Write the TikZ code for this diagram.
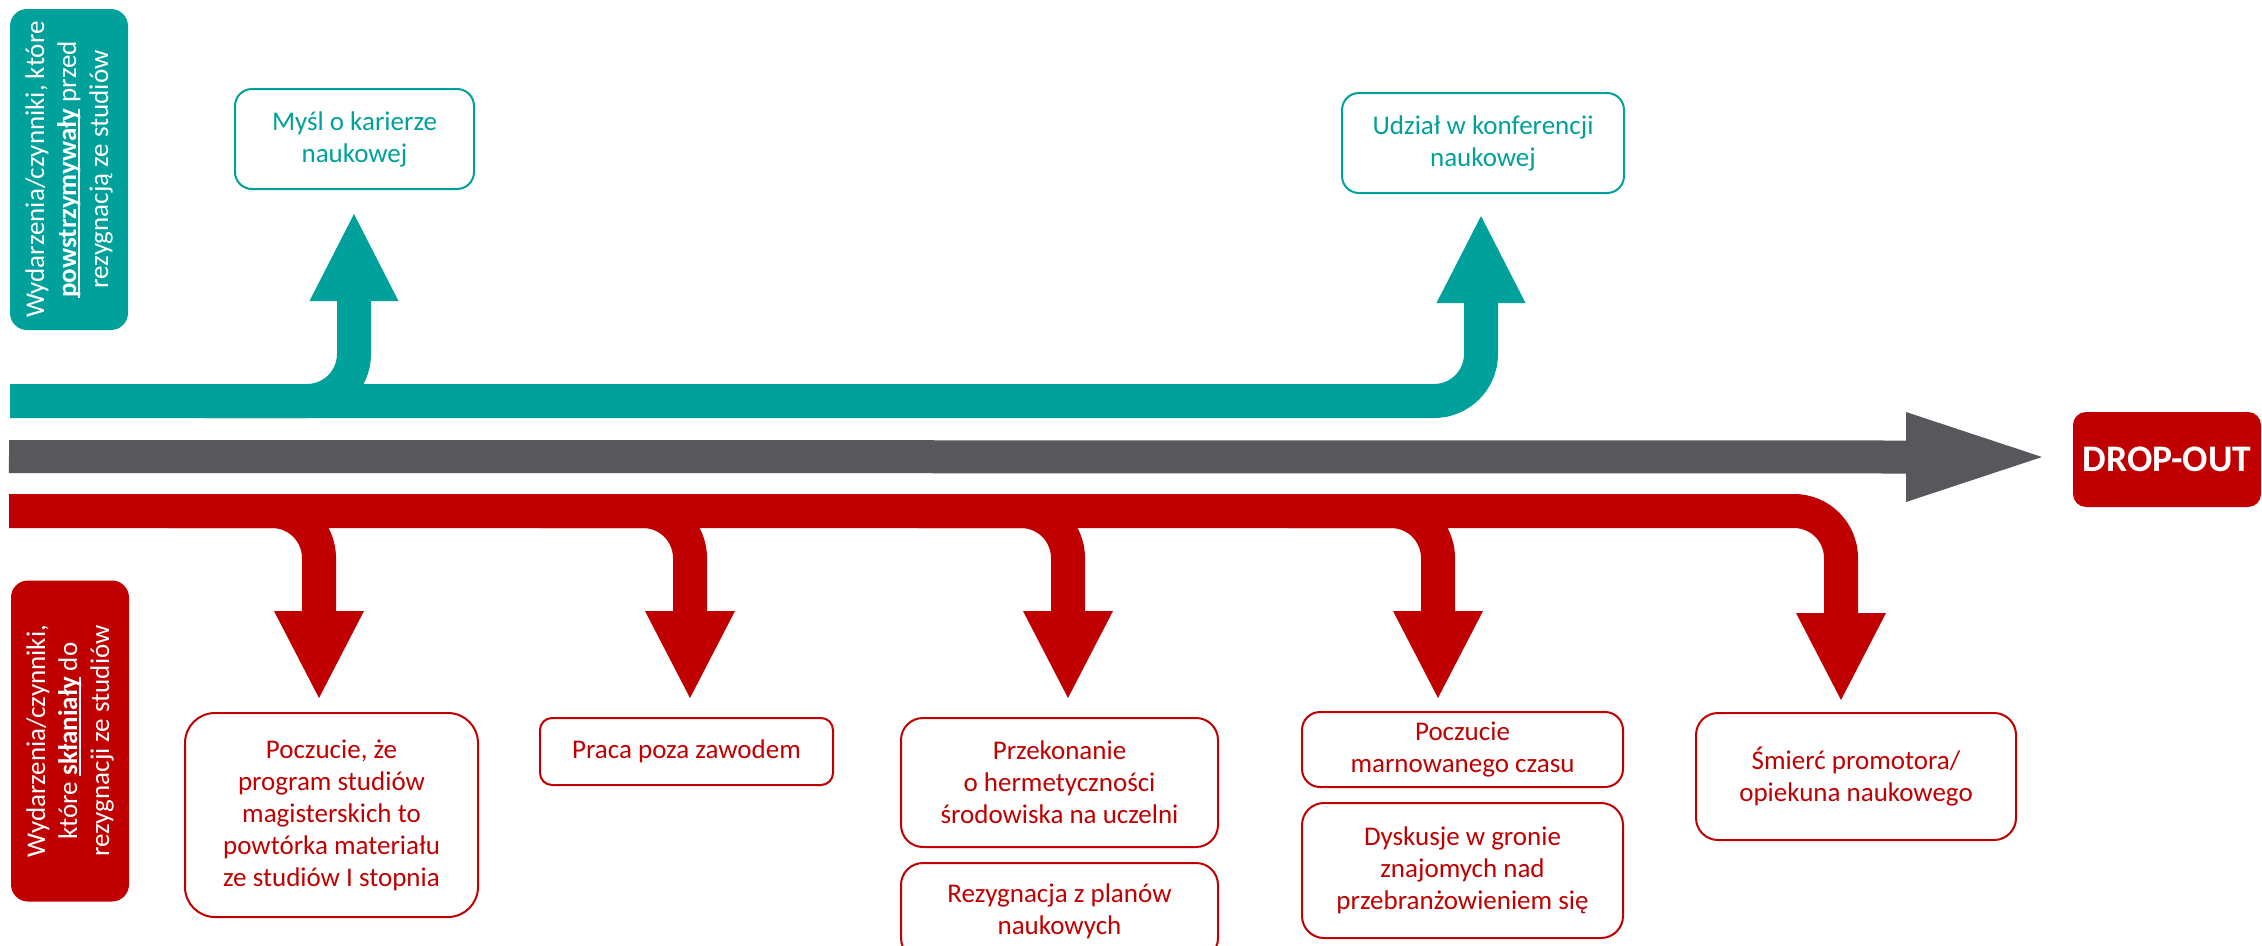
\documentclass[tikz,border=0pt]{standalone}
\usepackage{fontspec}
\setmainfont{Carlito}
\usetikzlibrary{calc}
\definecolor{tealc}{HTML}{00A19A}
\definecolor{redc}{HTML}{C00000}
\definecolor{grayc}{HTML}{58575C}
% bold word with a thick underline
\newsavebox\ulbox
\newcommand\ulword[1]{\sbox\ulbox{\bfseries #1}\rlap{\rule[-3.5pt]{\wd\ulbox}{2pt}}\usebox\ulbox}

\begin{document}
\begin{tikzpicture}[x=1pt,y=-1pt,
  every node/.style={font=\fontsize{27}{32}\selectfont, align=center, inner sep=0pt},
  tealbox/.style={draw=tealc, line width=2pt, rounded corners=17pt, text=tealc, fill=white},
  redbox/.style={draw=redc, line width=2pt, rounded corners=#1, text=redc, fill=white},
  redbox/.default=22pt,
  sidelabel/.style={rounded corners=17pt, text=white, rotate=90, minimum width=321pt, minimum height=118pt},
  tealstem/.style={draw=tealc, line width=34pt, rounded corners=47pt},
  redstem/.style={draw=redc, line width=34pt, rounded corners=47pt},
  graystem/.style={draw=grayc, line width=33pt}]
\useasboundingbox (0,0) rectangle (2262,945);

% side labels
\node[sidelabel, fill=tealc] (lblT) at (69,169.5)
  {Wydarzenia/czynniki, które\\ \ulword{powstrzymywały} przed\\ rezygnacją ze studiów};
\node[sidelabel, fill=redc] (lblR) at (70,741)
  {Wydarzenia/czynniki,\\ które \ulword{skłaniały} do\\ rezygnacji ze studiów};

% upper (teal) boxes
\node[tealbox, minimum width=239pt, minimum height=100pt] (tk) at (354.5,139) {Myśl o karierze\\ naukowej};
\node[tealbox, minimum width=282pt, minimum height=100pt] (tu) at (1483,143) {Udział w konferencji\\ naukowej};

% lower (red) boxes
\node[redbox=30pt, minimum width=293pt, minimum height=204pt] (r1box) at (331.5,815)
  {Poczucie, że\\ program studiów\\ magisterskich to\\ powtórka materiału\\ ze studiów I stopnia};
\node[redbox=12pt, minimum width=293pt, minimum height=67pt] (r2box) at (686.5,751.5) {Praca poza zawodem};
\node[redbox, minimum width=317pt, minimum height=129pt] (r3box) at (1059.5,782.5)
  {Przekonanie\\ o hermetyczności\\ środowiska na uczelni};
\node[redbox, minimum width=317pt, minimum height=97pt] (r3bbox) at (1059.5,911.5)
  {Rezygnacja z planów\\ naukowych};
\node[redbox=18pt, minimum width=321pt, minimum height=75pt] (r4box) at (1462.5,749.5)
  {Poczucie\\ marnowanego czasu};
\node[redbox, minimum width=321pt, minimum height=135pt] (r4bbox) at (1462.5,870.5)
  {Dyskusje w gronie\\ znajomych nad\\ przebranżowieniem się};
\node[redbox, minimum width=320pt, minimum height=127pt] (r5box) at (1856,776.5)
  {Śmierć promotora/\\ opiekuna naukowego};

% final state
\node[fill=redc, rounded corners=13pt, minimum width=188pt, minimum height=95pt,
      text=white, font=\fontsize{37.5}{40}\selectfont\bfseries] (drop) at (2167,459.5) {DROP-OUT};

% teal track with its two upward branches
\coordinate (tL) at (10,401);
\coordinate (tA) at (354,214);
\coordinate (tB) at (1481,216);
\draw[tealstem] (tL) -- (tL -| tB) -- ($(tB)+(0,86)$);
\draw[tealstem] ($(tL -| tA)+(-150,0)$) -- (tL -| tA) -- ($(tA)+(0,86)$);
\foreach \t in {tA,tB}
  \fill[tealc] (\t) -- ++(-44.5,87) -- ++(89,0) -- cycle;

% gray time axis
\coordinate (gL) at (9,456.5);
\coordinate (gT) at (2042,457);
\draw[graystem] (gL) -- ($(gT)+(-134,0)$);
\fill[grayc] (gT) -- ++(-136,-45) -- ++(0,90) -- cycle;

% red track with its five downward branches
\coordinate (rL) at (9,511);
\coordinate (r1) at (319,698);
\coordinate (r2) at (690,698);
\coordinate (r3) at (1068,698);
\coordinate (r4) at (1438,698);
\coordinate (r5) at (1841,700);
\draw[redstem] (rL) -- (rL -| r5) -- ($(r5)+(0,-87)$);
\foreach \t in {r1,r2,r3,r4}
  \draw[redstem] ($(rL -| \t)+(-150,0)$) -- (rL -| \t) -- ($(\t)+(0,-86)$);
\foreach \t in {r1,r2,r3,r4,r5}
  \fill[redc] (\t) -- ++(-45,-87) -- ++(90,0) -- cycle;
\end{tikzpicture}
\end{document}
